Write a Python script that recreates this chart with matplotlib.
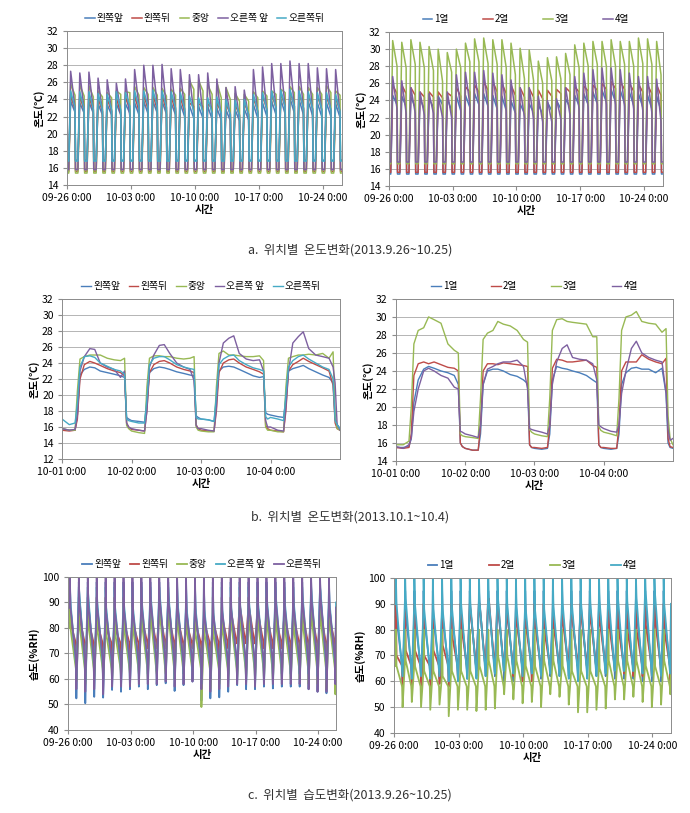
import matplotlib
matplotlib.use('Agg')
import matplotlib.pyplot as plt

plt.rcParams['font.family'] = ['Noto Sans CJK KR', 'DejaVu Sans']

BLUE, RED, GREEN, PURPLE, CYAN = '#4A7EBB', '#BE4B48', '#98B954', '#7D60A0', '#46AAC5'

# ---- labels / ticks ----
LOC_LABELS = ['왼쪽앞', '왼쪽뒤', '중앙', '오른쪽 앞', '오른쪽뒤']
ROW_LABELS = ['1열', '2열', '3열', '4열']
MONTH_TICKS = [0, 7, 14, 21, 28]
MONTH_LABELS = ['09-26 0:00', '10-03 0:00', '10-10 0:00', '10-17 0:00', '10-24 0:00']
DAY_TICKS = [0, 1, 2, 3]
DAY_LABELS = ['10-01 0:00', '10-02 0:00', '10-03 0:00', '10-04 0:00']
N_DAYS = 30

# time of day (fraction) for lights-on, daily peak, evening, lights-off
TEMP_PHASE = [0.19, 0.40, 0.88, 0.93]
# time of day for night end, spike, day start, day end, dip
HUM_PHASE = [0.19, 0.21, 0.27, 0.88, 0.93]

# ---- a. temperature by location (09-26 ~ 10-25), daily peak / evening / night ----
ta_fl_peak = [23.8, 23.6, 23.7, 23.5, 23.4, 23.5, 23.5, 23.6, 23.8, 23.8, 23.8, 23.6, 23.5, 23.3, 23.2,
              23.2, 23.0, 22.8, 22.8, 22.9, 23.4, 23.6, 23.8, 24.0, 24.2, 24.0, 23.8, 23.6, 23.6, 23.5]
ta_fl_end = [22.5, 22.4, 22.4, 22.2, 22.2, 22.2, 22.4, 22.2, 22.3, 22.4, 22.3, 22.2, 22.0, 21.8, 21.8,
             21.7, 21.6, 21.5, 21.5, 21.6, 21.8, 22.0, 22.2, 22.3, 22.4, 22.2, 22.1, 22.0, 22.0, 21.9]
ta_rl_peak = [24.5, 24.4, 24.4, 24.2, 24.1, 24.2, 24.3, 24.5, 24.6, 24.6, 24.6, 24.4, 24.3, 23.6, 23.5,
              23.5, 23.6, 23.5, 23.4, 23.6, 24.2, 24.5, 24.7, 24.8, 25.0, 24.8, 24.6, 24.5, 24.4, 24.3]
ta_rl_end = [22.8, 22.7, 22.7, 22.6, 22.6, 22.4, 22.8, 22.6, 22.8, 22.8, 22.7, 22.6, 22.5, 23.2, 23.2,
             23.0, 22.5, 22.3, 22.2, 22.3, 22.6, 22.8, 23.0, 23.1, 23.2, 23.0, 22.9, 22.8, 22.8, 22.6]
ta_c_peak = [25.8, 25.7, 25.6, 25.0, 24.8, 25.0, 24.9, 25.5, 25.4, 25.4, 25.3, 25.2, 25.3, 26.2, 26.2,
             25.7, 26.0, 25.4, 24.7, 24.6, 24.9, 25.0, 25.0, 25.2, 25.5, 25.5, 25.4, 25.4, 25.6, 25.0]
ta_c_end = [24.5, 24.4, 24.3, 24.3, 24.2, 24.6, 24.8, 24.5, 24.6, 24.5, 24.4, 24.5, 24.6, 25.2, 25.0,
            24.6, 24.2, 24.0, 23.8, 23.8, 24.2, 24.4, 24.6, 24.8, 24.8, 24.6, 24.6, 24.6, 24.8, 24.5]
ta_fr_peak = [27.3, 27.1, 27.2, 26.5, 26.3, 25.9, 26.4, 27.5, 28.0, 28.0, 28.1, 27.6, 27.5, 26.9, 26.9,
              27.1, 26.4, 25.4, 25.5, 25.1, 27.5, 27.8, 28.2, 28.2, 28.5, 28.2, 28.2, 27.7, 27.6, 27.5]
ta_fr_end = [23.0, 22.8, 22.8, 22.5, 22.6, 22.5, 22.0, 23.2, 23.5, 23.3, 23.0, 22.8, 22.6, 22.3, 22.2,
             22.0, 21.8, 21.8, 21.6, 21.8, 22.2, 22.5, 22.8, 23.0, 23.2, 22.8, 22.6, 22.5, 22.4, 22.2]
ta_rr_peak = [25.0, 24.9, 24.9, 24.7, 24.6, 24.9, 24.8, 25.0, 25.0, 25.1, 25.0, 24.9, 24.8, 24.4, 24.2,
              24.2, 24.3, 24.0, 23.9, 24.0, 24.6, 24.8, 25.0, 25.1, 25.2, 25.0, 24.9, 24.8, 24.8, 24.6]
ta_rr_end = [23.0, 22.9, 22.9, 22.8, 22.8, 22.8, 23.2, 23.1, 23.2, 23.2, 23.1, 23.0, 22.9, 22.6, 22.5,
             22.4, 22.3, 22.2, 22.1, 22.2, 22.6, 22.8, 23.0, 23.1, 23.2, 23.0, 22.9, 22.8, 22.8, 22.6]
ta_night = [16.9, 15.6, 15.4, 15.8, 16.8]

# ---- a. temperature by row ----
tr_1_peak = [24.6, 24.5, 24.4, 24.2, 24.2, 24.5, 24.2, 24.5, 24.6, 24.8, 24.8, 24.6, 24.5, 24.0, 23.6,
             23.6, 23.5, 23.8, 24.0, 24.2, 24.6, 24.8, 25.0, 25.2, 25.3, 25.2, 25.0, 24.8, 24.6, 24.5]
tr_1_end = [23.5, 23.3, 23.2, 23.0, 23.2, 23.5, 22.8, 22.8, 23.2, 23.5, 23.3, 23.0, 22.8, 22.5, 22.5,
            22.6, 22.4, 22.8, 23.0, 23.2, 23.4, 23.5, 23.6, 23.8, 23.8, 23.6, 23.4, 23.2, 23.0, 22.8]
tr_2_peak = [25.8, 25.8, 25.5, 25.0, 25.0, 25.0, 24.9, 25.5, 25.6, 25.8, 26.2, 26.2, 26.0, 25.8, 25.5,
             25.4, 25.2, 25.2, 25.3, 25.5, 25.6, 25.7, 25.8, 26.0, 26.2, 26.2, 26.0, 25.9, 25.8, 25.8]
tr_2_end = [24.8, 24.8, 24.6, 24.4, 24.4, 24.3, 24.5, 24.5, 25.0, 25.0, 25.2, 25.0, 24.8, 24.6, 24.4,
            24.4, 24.2, 24.5, 24.8, 25.0, 25.0, 25.1, 25.2, 25.3, 25.4, 25.3, 25.1, 25.0, 24.8, 24.6]
tr_3_peak = [31.0, 30.8, 31.1, 30.8, 30.3, 30.0, 29.6, 30.0, 30.7, 31.2, 31.3, 31.1, 31.1, 30.7, 30.1,
             29.9, 28.6, 29.0, 29.1, 29.5, 30.5, 30.7, 30.9, 30.9, 31.1, 30.9, 30.9, 31.3, 31.2, 30.9]
tr_3_end = [28.0, 27.8, 28.2, 27.8, 27.5, 26.2, 27.3, 27.8, 28.5, 28.5, 28.3, 28.2, 27.8, 27.0, 26.5,
            26.3, 26.0, 26.3, 26.5, 27.0, 27.8, 28.0, 28.2, 28.0, 28.0, 28.2, 28.0, 28.3, 28.2, 27.0]
tr_4_peak = [26.8, 26.3, 25.5, 25.0, 24.8, 24.5, 25.0, 27.0, 27.3, 27.3, 27.5, 27.2, 27.0, 26.4, 25.5,
             25.5, 24.5, 24.0, 24.2, 25.5, 26.8, 27.2, 27.6, 27.8, 27.8, 27.6, 27.2, 26.8, 26.8, 26.5]
tr_4_end = [23.0, 22.5, 22.5, 22.3, 22.5, 22.0, 22.0, 23.0, 23.5, 23.5, 23.2, 23.0, 22.8, 22.5, 22.0,
            21.8, 21.5, 21.5, 21.8, 22.3, 23.0, 23.2, 23.5, 23.5, 23.5, 23.3, 23.0, 22.8, 22.5, 21.5]
tr_night = [15.4, 15.6, 16.6, 16.8]

# ---- b. temperature 10-01 ~ 10-04 (hour of day for each reading) ----
B_HOURS = [0, 2.5, 4.5, 5.3, 6.2, 7.7, 9.6, 11.3, 13.2, 15.6, 18, 20.2, 21.6, 22.3, 23]
tb_fl = [15.8, 15.6, 15.6, 17.5, 22.5, 23.2, 23.5, 23.4, 23.0, 22.8, 22.6, 22.4, 22.2, 17.2, 17.0,
         16.8, 16.7, 16.6, 19.0, 22.8, 23.3, 23.5, 23.4, 23.2, 22.9, 22.7, 22.5, 22.4, 17.4, 17.2,
         17.0, 16.9, 16.7, 19.5, 23.0, 23.5, 23.6, 23.5, 23.2, 22.8, 22.4, 22.2, 22.3, 17.8, 17.6,
         17.5, 17.3, 17.2, 19.5, 23.0, 23.3, 23.5, 23.7, 23.3, 22.9, 22.5, 22.2, 21.5, 17.0, 16.3, 15.8]
tb_rl = [15.6, 15.5, 15.6, 17.0, 22.0, 23.8, 24.2, 24.0, 23.7, 23.3, 23.0, 22.8, 22.4, 16.5, 16.0,
         15.7, 15.6, 15.5, 18.0, 22.8, 23.8, 24.2, 24.3, 24.0, 23.5, 23.2, 23.0, 22.8, 16.3, 15.8,
         15.6, 15.5, 15.5, 18.0, 22.8, 24.0, 24.4, 24.5, 24.0, 23.5, 23.2, 22.9, 22.6, 16.2, 15.8,
         15.6, 15.5, 15.4, 18.0, 23.0, 23.8, 24.2, 24.6, 24.2, 23.8, 23.4, 23.0, 21.2, 16.5, 15.8, 15.6]
tb_c = [15.8, 15.6, 15.6, 20.5, 24.5, 24.8, 25.0, 25.0, 25.0, 24.6, 24.4, 24.3, 24.6, 16.2, 15.8,
        15.5, 15.3, 15.2, 21.0, 24.6, 24.9, 24.9, 24.8, 24.8, 24.6, 24.5, 24.6, 24.8, 16.0, 15.6,
        15.5, 15.4, 15.4, 21.0, 25.2, 25.5, 25.0, 25.0, 24.9, 24.8, 24.8, 24.9, 24.3, 16.0, 15.6,
        15.6, 15.4, 15.4, 21.0, 24.6, 24.8, 25.0, 25.0, 25.1, 25.0, 25.2, 24.6, 25.4, 17.5, 15.8, 15.6]
tb_fr = [15.8, 15.6, 15.7, 17.5, 23.0, 24.8, 25.8, 25.7, 24.0, 23.5, 23.2, 22.2, 23.0, 16.5, 16.0,
         15.8, 15.6, 15.5, 18.0, 23.5, 25.0, 26.2, 26.3, 25.2, 24.0, 23.5, 23.2, 21.8, 16.2, 15.8,
         15.8, 15.6, 15.5, 18.5, 24.0, 26.5, 27.1, 27.4, 25.2, 24.5, 24.3, 24.4, 23.0, 16.8, 16.0,
         16.0, 15.6, 15.5, 18.5, 23.0, 26.5, 27.3, 27.9, 25.8, 25.0, 24.8, 24.6, 23.5, 21.5, 16.3, 15.6]
tb_rr = [17.0, 16.3, 16.5, 19.0, 23.5, 24.8, 24.9, 24.7, 24.0, 23.6, 23.2, 23.0, 22.6, 17.0, 16.8,
         16.7, 16.5, 16.5, 19.5, 23.8, 24.6, 24.8, 24.8, 24.4, 23.8, 23.5, 23.3, 23.2, 17.2, 17.0,
         17.0, 16.9, 16.7, 20.0, 23.8, 24.5, 24.9, 25.0, 24.3, 23.8, 23.4, 23.2, 23.0, 17.3, 17.0,
         17.2, 17.0, 16.8, 20.0, 23.5, 24.3, 24.8, 25.0, 24.5, 24.0, 23.5, 23.2, 22.0, 16.8, 16.3, 15.8]
tb_r1 = [15.5, 15.5, 15.6, 16.5, 20.5, 23.0, 24.2, 24.5, 24.3, 24.0, 23.8, 23.5, 22.5, 16.0, 15.6,
         15.4, 15.2, 15.2, 17.0, 22.5, 24.0, 24.2, 24.2, 24.0, 23.6, 23.4, 23.0, 22.6, 15.8, 15.5,
         15.4, 15.3, 15.4, 17.0, 23.0, 24.5, 24.3, 24.2, 24.0, 23.8, 23.5, 23.0, 22.7, 15.8, 15.5,
         15.4, 15.3, 15.4, 17.0, 22.5, 23.8, 24.3, 24.4, 24.2, 24.2, 23.8, 24.3, 21.5, 16.0, 15.5, 15.4]
tb_r2 = [15.5, 15.4, 15.5, 17.0, 23.5, 24.8, 25.0, 24.8, 25.0, 24.7, 24.4, 24.3, 24.0, 16.0, 15.6,
         15.4, 15.2, 15.2, 18.0, 24.0, 24.8, 24.8, 24.7, 24.9, 24.8, 24.7, 24.6, 24.5, 15.8, 15.5,
         15.5, 15.4, 15.5, 18.0, 24.3, 25.3, 25.2, 25.0, 25.0, 25.1, 25.2, 24.6, 24.4, 15.8, 15.5,
         15.5, 15.4, 15.4, 18.0, 24.0, 25.0, 25.0, 25.0, 25.8, 25.3, 25.0, 24.8, 25.4, 16.5, 15.6, 15.5]
tb_r3 = [15.8, 15.8, 16.2, 20.0, 27.0, 28.5, 28.8, 30.0, 29.7, 29.3, 27.0, 26.3, 26.0, 17.0, 16.8,
         16.7, 16.6, 16.5, 21.0, 27.5, 28.2, 28.5, 29.5, 29.2, 29.0, 28.5, 27.5, 27.2, 17.5, 17.2,
         17.0, 16.8, 16.7, 21.0, 28.5, 29.7, 29.8, 29.5, 29.4, 29.3, 29.2, 27.8, 27.8, 17.8, 17.4,
         17.2, 17.0, 16.8, 21.0, 28.5, 30.0, 30.2, 30.6, 29.5, 29.3, 29.2, 28.3, 28.7, 19.0, 16.5, 15.8]
tb_r4 = [15.6, 15.4, 15.8, 16.5, 19.5, 22.0, 24.0, 24.3, 24.0, 23.5, 23.2, 22.2, 22.0, 17.3, 17.2,
         17.0, 16.8, 16.6, 18.0, 22.5, 24.2, 24.5, 24.8, 25.0, 25.0, 25.2, 24.5, 22.0, 17.6, 17.5,
         17.4, 17.2, 17.0, 18.0, 22.5, 25.0, 26.5, 26.9, 25.5, 25.3, 25.2, 24.8, 23.0, 18.0, 17.8,
         17.6, 17.3, 17.2, 18.0, 21.5, 24.0, 26.5, 27.3, 26.0, 25.5, 25.2, 25.0, 21.6, 17.5, 16.3, 16.5]

# ---- c. humidity by location: pre-dawn level, evening dip per day; spike / day-end per series ----
hl_fl_top = [88, 92, 90, 88, 86, 85, 86, 84, 86, 88, 90, 90, 88, 86, 85, 84, 83, 84, 85, 86, 86, 87, 88, 88, 86, 86, 88, 90, 92, 88]
hl_fl_low = [52.4, 50.5, 53.0, 52.7, 55.7, 55.0, 56.0, 57.0, 56.0, 57.6, 58.3, 55.3, 57.6, 59.0, 51.5,
             52.4, 52.8, 55.0, 57.6, 56.0, 56.0, 57.0, 56.3, 57.0, 57.0, 57.0, 56.0, 55.0, 54.4, 58.0]
hl_rl_top = [82, 84, 83, 82, 80, 80, 82, 82, 84, 85, 86, 85, 84, 82, 82, 82, 82, 84, 86, 88, 88, 86, 85, 84, 84, 84, 85, 86, 86, 84]
hl_rl_low = [66, 65, 66, 64, 66, 68, 70, 70, 72, 72, 72, 70, 70, 72, 70, 68, 68, 72, 74, 75, 74, 72, 72, 72, 70, 70, 70, 68, 68, 68]
hl_c_top = [80, 82, 82, 80, 78, 78, 80, 80, 82, 84, 86, 84, 82, 80, 78, 78, 78, 80, 82, 82, 82, 82, 82, 82, 80, 80, 82, 84, 84, 82]
hl_c_low = [59, 58, 60, 60, 60, 61, 62, 62, 60, 62, 62, 60, 62, 63, 49, 56, 58, 60, 60, 60, 60, 60, 59, 60, 60, 60, 58, 58, 56, 54]
hl_fr_top = [90, 93, 92, 90, 88, 88, 89, 88, 90, 92, 93, 92, 90, 88, 88, 87, 86, 87, 88, 89, 90, 90, 91, 92, 90, 90, 92, 93, 94, 90]
hl_fr_low = [60, 59, 61, 60, 62, 62, 63, 62, 62, 63, 64, 60, 62, 63, 58, 60, 60, 62, 63, 62, 62, 62, 62, 62, 62, 62, 62, 61, 60, 62]
hl_rr_top = [88, 90, 89, 88, 86, 86, 87, 86, 88, 90, 91, 90, 88, 86, 86, 85, 85, 86, 87, 88, 88, 88, 89, 90, 88, 88, 90, 91, 92, 88]
hl_rr_low = [56, 55, 56, 54, 57, 57, 57, 58, 58, 58, 59, 57, 58, 59, 56, 55, 56, 57, 58, 58, 57, 58, 58, 58, 58, 58, 56, 55, 55, 58]
hl_spike = [98, 92, 88, 96, 100]
hl_dayend = [66, 74, 64, 66, 68]

# ---- c. humidity by row ----
hr_1_top = [85, 86, 85, 84, 84, 85, 86, 86, 88, 90, 90, 88, 86, 85, 85, 85, 84, 85, 86, 87, 88, 88, 88, 87, 86, 86, 87, 88, 88, 86]
hr_1_low = [60, 60, 61, 60, 61, 60, 61, 61, 62, 62, 62, 60, 60, 60, 61, 61, 62, 62, 62, 62, 62, 62, 62, 61, 61, 61, 60, 60, 60, 61]
hr_2_top = [70, 72, 72, 70, 72, 74, 78, 82, 88, 90, 92, 90, 86, 84, 82, 82, 80, 82, 84, 86, 86, 85, 84, 83, 82, 80, 80, 82, 84, 80]
hr_2_low = [58, 57, 58, 58, 59, 58, 60, 62, 64, 66, 66, 64, 62, 60, 60, 62, 64, 66, 68, 66, 66, 66, 66, 64, 63, 62, 62, 62, 62, 58]
hr_3_top = [66, 68, 66, 64, 64, 62, 64, 64, 64, 66, 68, 70, 70, 68, 66, 66, 68, 68, 66, 64, 64, 64, 65, 68, 68, 68, 68, 66, 66, 68]
hr_3_low = [50, 52, 50, 49, 51, 46.5, 49, 49, 48.5, 49, 49.5, 55, 53, 51.5, 52, 50, 55, 54, 51, 48, 48, 49, 49.5, 53, 53, 54, 52, 50, 51, 55]
hr_4_top = [90, 92, 90, 88, 88, 88, 89, 90, 90, 91, 92, 92, 90, 89, 88, 88, 88, 89, 90, 90, 90, 90, 91, 92, 92, 91, 92, 94, 94, 90]
hr_4_low = [62, 61, 62, 61, 62, 60, 60, 61, 61, 62, 63, 64, 63, 62, 63, 62, 63, 62, 61, 60, 61, 62, 63, 64, 64, 64, 63, 62, 62, 63]
hr_spike = [95, 90, 80, 100]
hr_dayend = [66, 66, 58, 64]


def temp_line(peak, end, night):
    t, v = [0.0], [night]
    for d in range(N_DAYS):
        t += [d + p for p in TEMP_PHASE]
        v += [night, peak[d], end[d], night]
    t.append(N_DAYS)
    v.append(night)
    return t, v


def hum_line(top, low, spike, dayend):
    t, v = [0.0], [top[0]]
    for d in range(N_DAYS):
        t += [d + p for p in HUM_PHASE]
        v += [top[d], spike, top[d], dayend, low[d]]
    t.append(N_DAYS)
    v.append(top[-1])
    return t, v


def b_times():
    return [d + h / 24 for d in range(4) for h in B_HOURS] + [4.0]


def style(ax, ylim, step, xlim, xticks, xlabels, ylabel):
    ax.set_xlim(xlim)
    ax.set_ylim(ylim)
    ax.set_yticks(range(ylim[0], ylim[1] + 1, step))
    ax.set_xticks(xticks)
    ax.set_xticklabels(xlabels)
    ax.grid(axis='y', color='#B4B4B4', lw=0.7)
    ax.set_axisbelow(True)
    for s in ax.spines.values():
        s.set_color('#8C8C8C')
        s.set_linewidth(0.7)
    ax.tick_params(labelsize=7.5, length=3, color='#8C8C8C', pad=3)
    ax.set_xlabel('시간', fontsize=7.5, fontweight='bold', labelpad=1)
    ax.set_ylabel(ylabel, fontsize=7.5, fontweight='bold', labelpad=2)


def legend(ax, ncol, spacing):
    ax.legend(loc='lower center', bbox_to_anchor=(0.5, 1.0), ncol=ncol, frameon=False,
              fontsize=7, handlelength=1.0, handletextpad=0.2, columnspacing=spacing,
              borderaxespad=0.4)


fig = plt.figure(figsize=(6.9, 8.13), dpi=100)

# a-left
ax = fig.add_axes([0.0971, 0.7724, 0.3986, 0.1894])
pairs = [(ta_fl_peak, ta_fl_end), (ta_rl_peak, ta_rl_end), (ta_c_peak, ta_c_end),
         (ta_fr_peak, ta_fr_end), (ta_rr_peak, ta_rr_end)]
for (pk, en), nt, lab, col in zip(pairs, ta_night, LOC_LABELS, [BLUE, RED, GREEN, PURPLE, CYAN]):
    t, v = temp_line(pk, en, nt)
    ax.plot(t, v, color=col, lw=1.1, label=lab)
style(ax, (14, 32), 2, (0, 30.1), MONTH_TICKS, MONTH_LABELS, '온도(℃)')
legend(ax, 5, 0.9)

# a-right
ax = fig.add_axes([0.5638, 0.7712, 0.3971, 0.1894])
pairs = [(tr_1_peak, tr_1_end), (tr_2_peak, tr_2_end), (tr_3_peak, tr_3_end), (tr_4_peak, tr_4_end)]
for (pk, en), nt, lab, col in zip(pairs, tr_night, ROW_LABELS, [BLUE, RED, GREEN, PURPLE]):
    t, v = temp_line(pk, en, nt)
    ax.plot(t, v, color=col, lw=1.1, label=lab)
style(ax, (14, 32), 2, (0, 30.1), MONTH_TICKS, MONTH_LABELS, '온도(℃)')
legend(ax, 4, 3.5)

# b-left
ax = fig.add_axes([0.0899, 0.4354, 0.4029, 0.1968])
for vals, lab, col in zip([tb_fl, tb_rl, tb_c, tb_fr, tb_rr], LOC_LABELS, [BLUE, RED, GREEN, PURPLE, CYAN]):
    ax.plot(b_times(), vals, color=col, lw=1.0, label=lab)
style(ax, (12, 32), 2, (0, 4), DAY_TICKS, DAY_LABELS, '온도(℃)')
legend(ax, 5, 0.9)

# b-right
ax = fig.add_axes([0.5739, 0.4330, 0.4014, 0.1993])
for vals, lab, col in zip([tb_r1, tb_r2, tb_r3, tb_r4], ROW_LABELS, [BLUE, RED, GREEN, PURPLE]):
    ax.plot(b_times(), vals, color=col, lw=1.0, label=lab)
style(ax, (14, 32), 2, (0, 4), DAY_TICKS, DAY_LABELS, '온도(℃)')
legend(ax, 4, 3.5)

# c-left
ax = fig.add_axes([0.0986, 0.1021, 0.3884, 0.1882])
pairs = [(hl_fl_top, hl_fl_low), (hl_rl_top, hl_rl_low), (hl_c_top, hl_c_low),
         (hl_fr_top, hl_fr_low), (hl_rr_top, hl_rr_low)]
for (tp, lo), sp, de, lab, col in zip(pairs, hl_spike, hl_dayend, LOC_LABELS, [BLUE, RED, GREEN, CYAN, PURPLE]):
    t, v = hum_line(tp, lo, sp, de)
    ax.plot(t, v, color=col, lw=1.3, label=lab)
style(ax, (40, 100), 10, (0, 30), MONTH_TICKS, MONTH_LABELS, '습도(%RH)')
legend(ax, 5, 0.9)

# c-right
ax = fig.add_axes([0.5710, 0.0984, 0.4014, 0.1907])
pairs = [(hr_1_top, hr_1_low), (hr_2_top, hr_2_low), (hr_3_top, hr_3_low), (hr_4_top, hr_4_low)]
for (tp, lo), sp, de, lab, col in zip(pairs, hr_spike, hr_dayend, ROW_LABELS, [BLUE, RED, GREEN, CYAN]):
    t, v = hum_line(tp, lo, sp, de)
    ax.plot(t, v, color=col, lw=1.3, label=lab)
style(ax, (40, 100), 10, (0, 30), MONTH_TICKS, MONTH_LABELS, '습도(%RH)')
legend(ax, 4, 3.6)

fig.text(0.507, 0.6925, 'a.  위치별  온도변화(2013.9.26~10.25)', ha='center', va='center', fontsize=9, color='#333333')
fig.text(0.507, 0.364, 'b.  위치별  온도변화(2013.10.1~10.4)', ha='center', va='center', fontsize=9, color='#333333')
fig.text(0.507, 0.022, 'c.  위치별  습도변화(2013.9.26~10.25)', ha='center', va='center', fontsize=9, color='#333333')

fig.savefig('out.png', dpi=100)
